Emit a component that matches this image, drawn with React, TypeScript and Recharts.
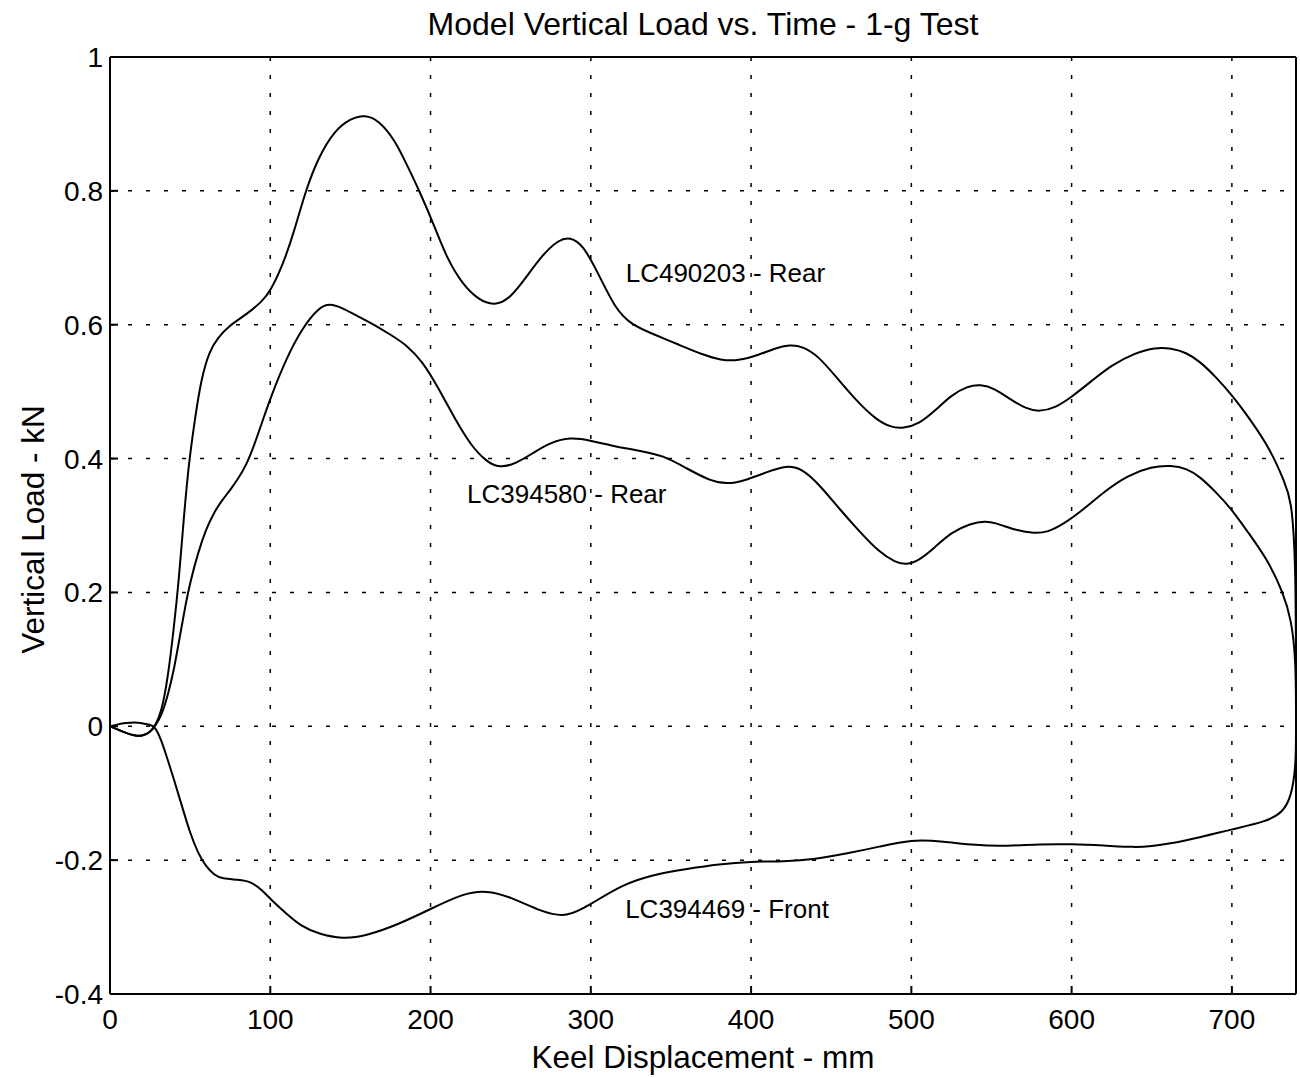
import React from 'react';
import { LineChart, Line, XAxis, YAxis, CartesianGrid, ReferenceLine, ReferenceDot, Label } from 'recharts';

// Keel displacement (mm) / vertical load (kN) pairs
const rearUpperX = [0, 5, 10, 15, 20, 25, 28, 32, 36, 40, 43, 46, 49, 53, 57, 62, 67, 75, 85, 95, 100, 108, 115, 122, 130, 140, 150, 159, 168, 178, 186, 193, 202, 210, 220, 230, 240, 250, 260, 270, 280, 287, 295, 305, 315, 325, 340, 355, 370, 381, 392, 405, 415, 424, 432, 442, 452, 465, 478, 487, 495, 505, 515, 525, 535, 543, 552, 562, 572, 580, 590, 600, 612, 625, 640, 652, 662, 672, 680, 690, 700, 711, 724, 733, 737, 740, 740];
const rearUpperY = [0, -0.005, -0.01, -0.014, -0.015, -0.009, 0, 0.02, 0.07, 0.15, 0.22, 0.31, 0.39, 0.46, 0.52, 0.56, 0.58, 0.6, 0.615, 0.635, 0.65, 0.69, 0.74, 0.8, 0.85, 0.89, 0.908, 0.914, 0.905, 0.875, 0.835, 0.8, 0.75, 0.7, 0.66, 0.637, 0.628, 0.64, 0.672, 0.705, 0.727, 0.731, 0.72, 0.675, 0.625, 0.6, 0.585, 0.57, 0.555, 0.547, 0.546, 0.555, 0.565, 0.57, 0.568, 0.553, 0.525, 0.488, 0.458, 0.447, 0.445, 0.452, 0.472, 0.495, 0.508, 0.511, 0.505, 0.488, 0.474, 0.47, 0.476, 0.492, 0.515, 0.54, 0.558, 0.566, 0.565, 0.558, 0.545, 0.522, 0.495, 0.46, 0.414, 0.364, 0.34, 0.25, 0];

const rearMiddleX = [0, 5, 10, 15, 20, 25, 28, 32, 36, 40, 44, 47, 50, 55, 60, 65, 70, 75, 80, 85, 90, 95, 100, 110, 120, 130, 137, 145, 155, 165, 175, 185, 195, 205, 215, 225, 235, 243, 253, 265, 275, 287, 300, 315, 330, 345, 360, 375, 385, 395, 410, 422, 432, 443, 455, 468, 480, 490, 497, 505, 515, 525, 537, 546, 555, 565, 577, 585, 595, 608, 620, 635, 650, 662, 672, 680, 690, 700, 710, 722, 732, 737, 740, 740];
const rearMiddleY = [0, -0.005, -0.01, -0.014, -0.015, -0.009, 0, 0.015, 0.045, 0.085, 0.14, 0.18, 0.215, 0.26, 0.295, 0.32, 0.338, 0.353, 0.37, 0.39, 0.42, 0.455, 0.49, 0.55, 0.595, 0.625, 0.632, 0.625, 0.612, 0.6, 0.585, 0.57, 0.545, 0.505, 0.46, 0.42, 0.395, 0.386, 0.392, 0.41, 0.424, 0.432, 0.427, 0.418, 0.412, 0.405, 0.385, 0.366, 0.362, 0.366, 0.38, 0.39, 0.385, 0.36, 0.325, 0.29, 0.26, 0.245, 0.241, 0.248, 0.268, 0.29, 0.303, 0.307, 0.302, 0.293, 0.288, 0.29, 0.302, 0.325, 0.35, 0.375, 0.388, 0.39, 0.385, 0.373, 0.35, 0.324, 0.29, 0.25, 0.2, 0.16, 0.1, 0];

const frontX = [0, 5, 10, 15, 20, 25, 28, 32, 36, 40, 45, 50, 55, 60, 65, 70, 80, 88, 95, 100, 110, 120, 130, 145, 160, 180, 200, 220, 235, 250, 270, 285, 300, 320, 340, 360, 380, 400, 420, 440, 460, 480, 500, 520, 540, 560, 580, 600, 620, 640, 650, 660, 680, 700, 722, 732, 737, 740, 740];
const frontY = [0, 0.003, 0.005, 0.006, 0.005, 0.002, 0, -0.02, -0.05, -0.08, -0.12, -0.16, -0.19, -0.21, -0.222, -0.228, -0.229, -0.232, -0.245, -0.258, -0.28, -0.3, -0.31, -0.318, -0.313, -0.296, -0.273, -0.25, -0.245, -0.255, -0.278, -0.286, -0.266, -0.236, -0.221, -0.213, -0.206, -0.202, -0.202, -0.199, -0.19, -0.18, -0.169, -0.172, -0.178, -0.179, -0.176, -0.176, -0.178, -0.181, -0.179, -0.176, -0.166, -0.154, -0.142, -0.128, -0.105, -0.06, 0];

const xTicks = [0, 100, 200, 300, 400, 500, 600, 700];
const yTicks = [-0.4, -0.2, 0, 0.2, 0.4, 0.6, 0.8, 1];

const toPoints = (xs: number[], ys: number[]) => xs.map((x, i) => ({ x, y: ys[i] }));

const FONT = '"Liberation Sans", Arial, Helvetica, sans-serif';

const series = [
  { name: 'LC490203 - Rear', data: toPoints(rearUpperX, rearUpperY), labelAt: { x: 384, y: 0.678 } },
  { name: 'LC394580 - Rear', data: toPoints(rearMiddleX, rearMiddleY), labelAt: { x: 285, y: 0.348 } },
  { name: 'LC394469 - Front', data: toPoints(frontX, frontY), labelAt: { x: 385, y: -0.272 } },
];

export default function App() {
  return (
    <div style={{ position: 'absolute', left: 0, top: 0, background: '#fff' }}>
      <LineChart width={1300} height={1078} margin={{ top: 57, right: 4, bottom: 0, left: 0 }}>
        <CartesianGrid stroke="#000" strokeWidth={1.5} strokeDasharray="4 14" />
        <XAxis
          dataKey="x"
          type="number"
          domain={[0, 740]}
          ticks={xTicks}
          height={84}
          tickSize={-8}
          tickMargin={23}
          tickLine={{ stroke: '#000', strokeWidth: 2 }}
          axisLine={{ stroke: '#000', strokeWidth: 2 }}
          tick={{ fill: '#000', fontSize: 28, fontFamily: FONT }}
          allowDataOverflow
        >
          <Label
            value="Keel Displacement - mm"
            position="insideBottom"
            offset={10}
            style={{ fill: '#000', fontSize: 31.5, fontFamily: FONT }}
          />
        </XAxis>
        <YAxis
          type="number"
          domain={[-0.4, 1]}
          ticks={yTicks}
          width={110}
          tickSize={-8}
          tickMargin={15}
          tickLine={{ stroke: '#000', strokeWidth: 2 }}
          axisLine={{ stroke: '#000', strokeWidth: 2 }}
          tick={{ fill: '#000', fontSize: 28, fontFamily: FONT }}
          allowDataOverflow
        >
          <Label
            content={({ viewBox }: any) => {
              const cy = viewBox.y + viewBox.height / 2 + 4;
              return (
                <text
                  x={33}
                  y={cy}
                  transform={`rotate(-90 33 ${cy})`}
                  textAnchor="middle"
                  dominantBaseline="central"
                  style={{ fill: '#000', fontSize: 31.5, fontFamily: FONT }}
                >
                  Vertical Load - kN
                </text>
              );
            }}
          />
        </YAxis>
        <ReferenceLine
          y={1}
          stroke="#000"
          strokeWidth={2}
          label={{
            value: 'Model Vertical Load vs. Time - 1-g Test',
            position: 'top',
            offset: 22,
            style: { fill: '#000', fontSize: 32, fontFamily: FONT },
          }}
        />
        <ReferenceLine x={740} stroke="#000" strokeWidth={2} />
        {series.map((s) => (
          <Line
            key={s.name}
            data={s.data}
            dataKey="y"
            type="basis"
            stroke="#000"
            strokeWidth={2}
            dot={false}
            isAnimationActive={false}
          />
        ))}
        {series.map((s) => (
          <ReferenceDot
            key={`lbl-${s.name}`}
            x={s.labelAt.x}
            y={s.labelAt.y}
            r={0}
            fill="none"
            stroke="none"
            label={{
              value: s.name,
              position: 'center',
              style: { fill: '#000', fontSize: 26, fontFamily: FONT },
            }}
          />
        ))}
      </LineChart>
    </div>
  );
}
